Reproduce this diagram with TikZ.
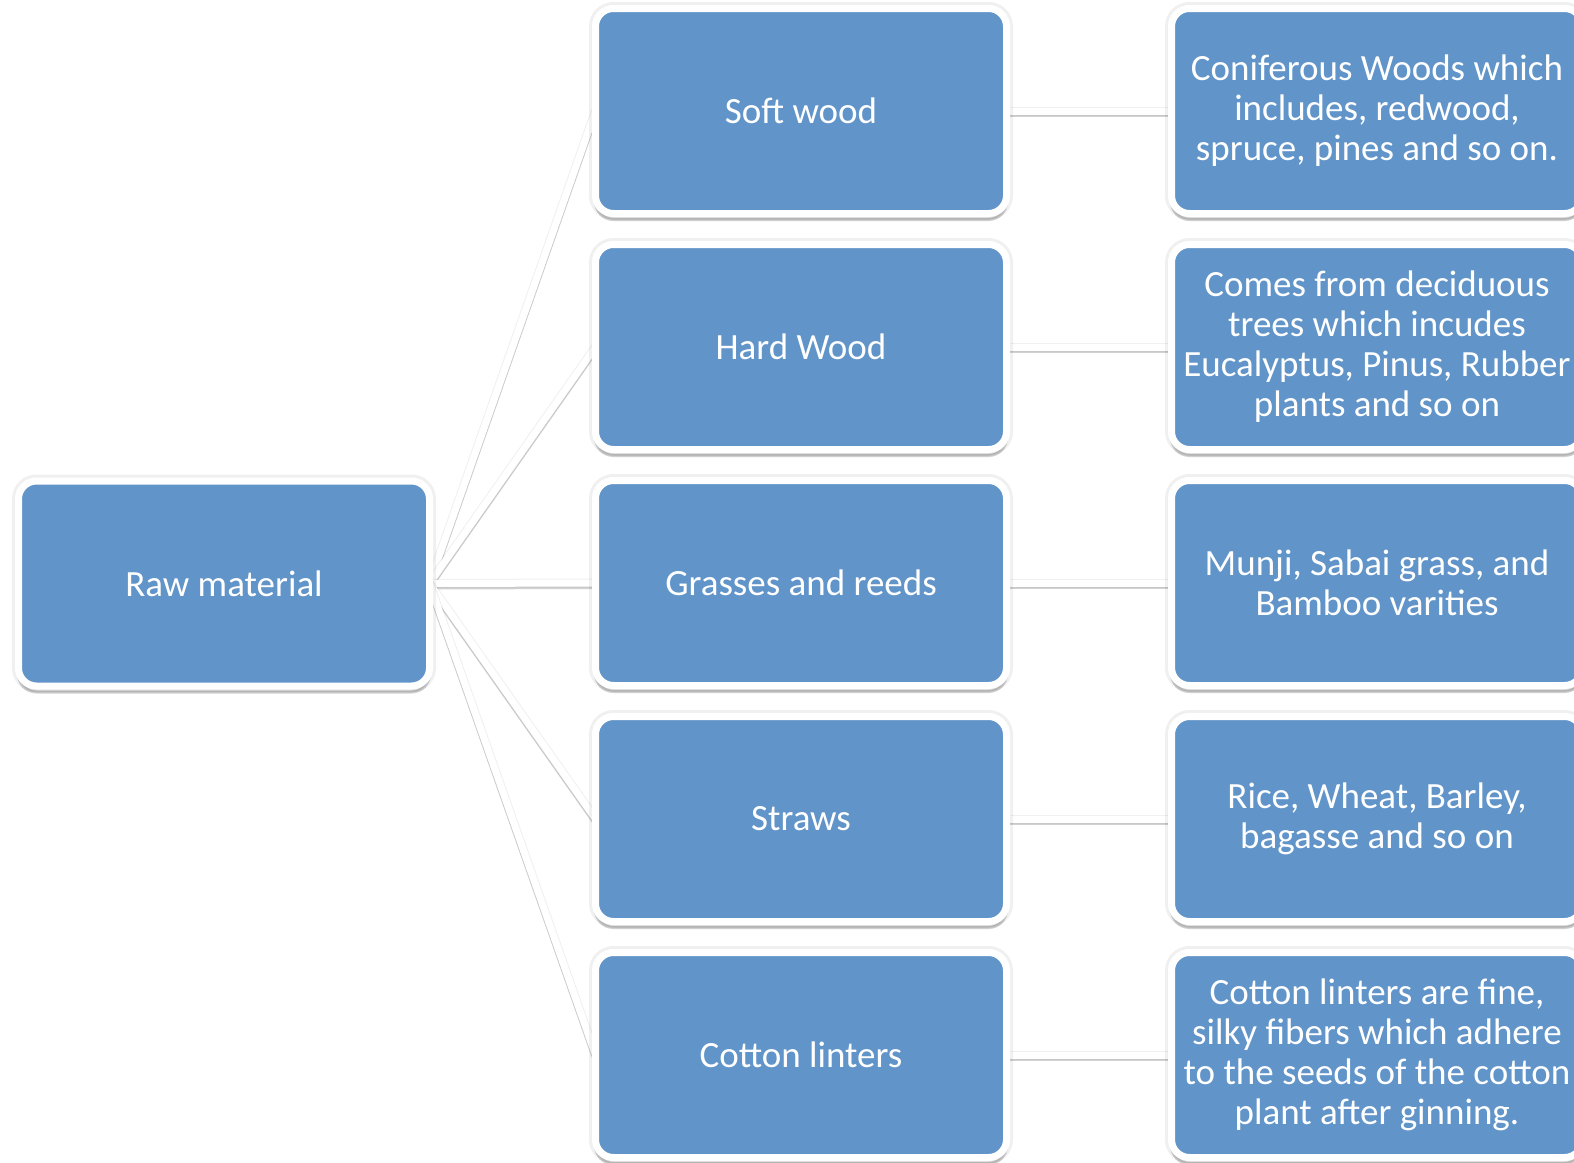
\documentclass[tikz,border=0pt]{standalone}
\usepackage{fontspec}
\setmainfont{Carlito}
\usetikzlibrary{shadows,backgrounds}
\definecolor{boxblue}{RGB}{97,148,200}

\begin{document}
\begin{tikzpicture}[x=1pt,y=-1pt,
    box/.style={draw=white,line width=7pt,fill=boxblue,rounded corners=18pt,
        minimum width=411pt,minimum height=205pt,outer sep=0pt,text=white,align=center,
        font=\fontsize{37}{40}\selectfont,
        drop shadow={shadow xshift=0pt,shadow yshift=0pt,draw=black,line width=13pt,opacity=0.06},
        drop shadow={shadow xshift=0pt,shadow yshift=-6pt,draw=black,line width=3pt,opacity=0.18}},
    link/.style={white,line width=7pt},
    linkedge/.style={black,line width=9pt,opacity=0.06},
    linkshade/.style={black!45,line width=7pt,opacity=0.4}]
        \useasboundingbox (0,0) rectangle (1574,1162);
        \node[box] (raw) at (224,583.5) {Raw material};
        \node[box] (soft) at (801,111) {Soft wood};
        \node[box] (hard) at (801,347) {Hard Wood};
        \node[box] (grass) at (801,583) {Grasses and reeds};
        \node[box] (straw) at (801,819) {Straws};
        \node[box] (cotton) at (801,1055) {Cotton linters};
        \node[box] (softnote) at (1377,111) {Coniferous Woods which\\includes, redwood,\\spruce, pines and so on.};
        \node[box] (hardnote) at (1377,347) {Comes from deciduous\\trees which incudes\\Eucalyptus, Pinus, Rubber\\plants and so on};
        \node[box] (grassnote) at (1377,583) {Munji, Sabai grass, and\\Bamboo varities};
        \node[box] (strawnote) at (1377,819) {Rice, Wheat, Barley,\\bagasse and so on};
        \node[box] (cottonnote) at (1377,1055) {Cotton linters are fine,\\silky fibers which adhere\\to the seeds of the cotton\\plant after ginning.};
        % connectors behind the boxes
        \begin{scope}[on background layer]
        \foreach \m in {soft,hard,grass,straw,cotton}{
            \draw[linkedge](raw.east)--(\m.west);
            \draw[linkedge](\m.east)--(\m note.west);
            \draw[linkshade]([yshift=-2.5pt]raw.east)--([yshift=-2.5pt]\m.west);
            \draw[linkshade]([yshift=-2.5pt]\m.east)--([yshift=-2.5pt]\m note.west);
            \draw[link](raw.east)--(\m.west);
            \draw[link](\m.east)--(\m note.west);
        }
        \end{scope}
\end{tikzpicture}
\end{document}
